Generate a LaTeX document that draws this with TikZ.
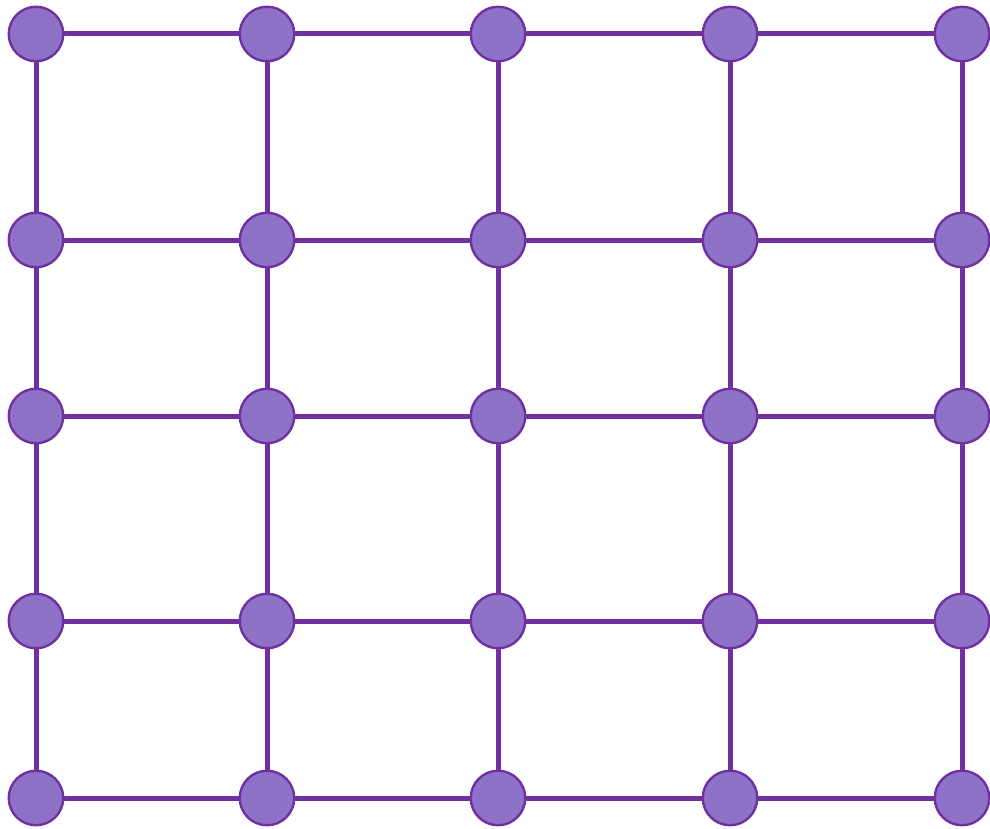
\documentclass[tikz,border=0pt]{standalone}
\usepackage{tikz}
\usetikzlibrary{positioning}
\definecolor{lila}{HTML}{8E72C8}
\definecolor{morado}{HTML}{7030A0}
\tikzset{
  vertice/.style={circle,fill=lila,draw=morado,line width=2.4pt,
                  minimum size=54.5pt,inner sep=0pt},
  arista/.style={morado,line width=5pt}
}
\begin{document}
\begin{tikzpicture}[x=1pt,y=-1pt]
        \useasboundingbox (0,0) rectangle (990,829);
        \foreach \c/\x in {0/36,1/267,2/498,3/730,4/962}{
          \foreach \r/\y in {0/34,1/240,2/416,3/621,4/798}{
            \node[vertice] (v\c\r) at (\x,\y) {};
          }
        }
        \foreach \a/\b in {0/1,1/2,2/3,3/4}{
          \foreach \k in {0,...,4}{
            \draw[arista] (v\k\a) -- (v\k\b);
            \draw[arista] (v\a\k) -- (v\b\k);
          }
        }
      \end{tikzpicture}
\end{document}
